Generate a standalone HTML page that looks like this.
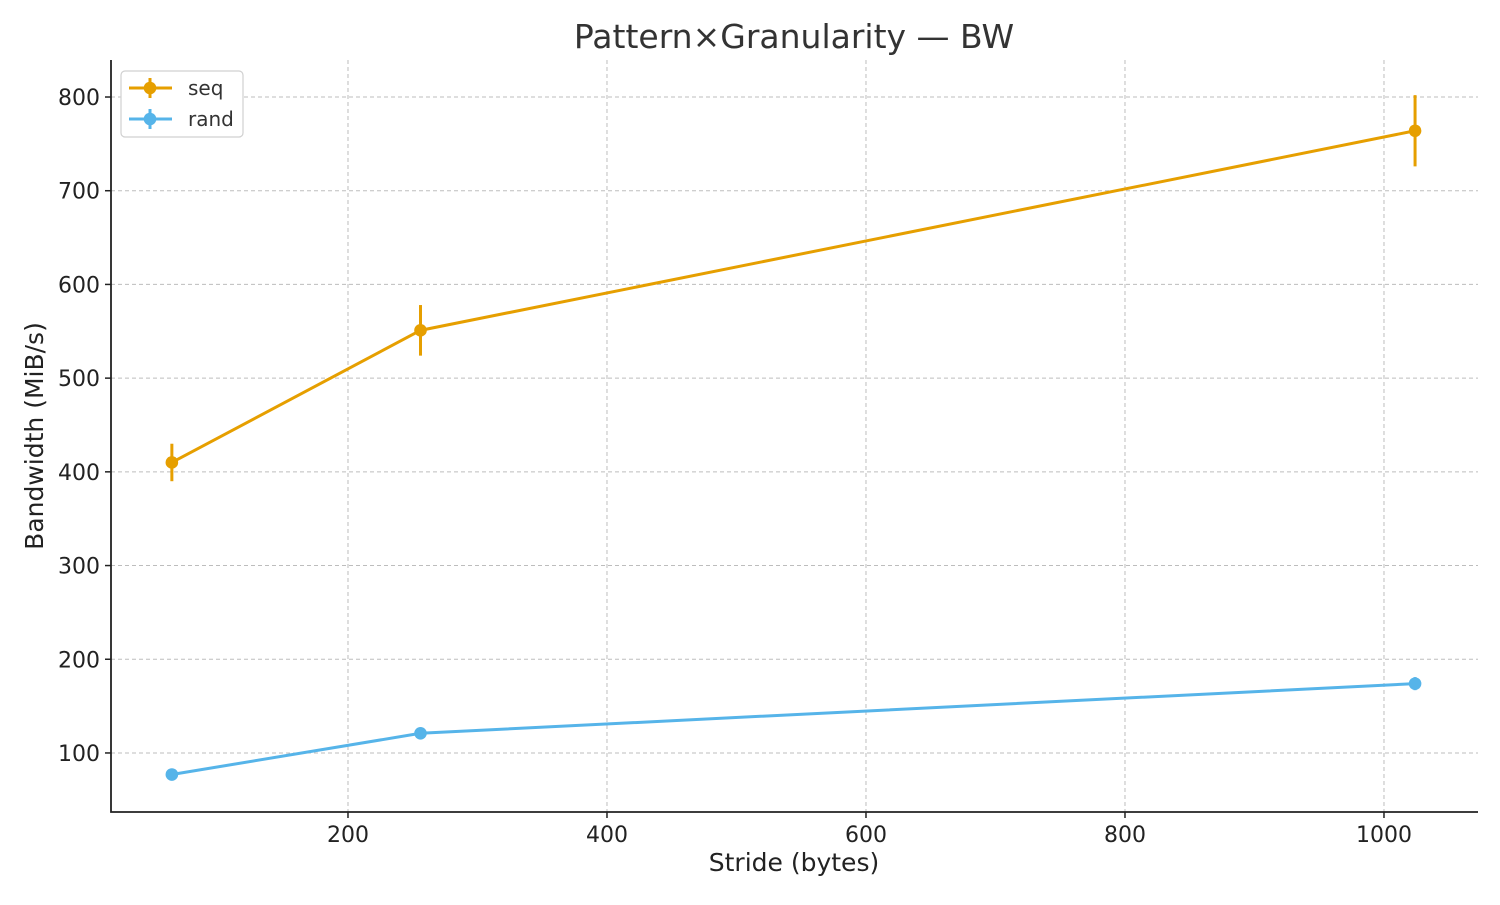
<!DOCTYPE html>
<html><head><meta charset="utf-8"><style>
body{margin:0;background:#fff;}
svg text{font-family:"DejaVu Sans","Liberation Sans",sans-serif;}
</style></head><body>
<svg id="chart" width="1500" height="900" xmlns="http://www.w3.org/2000/svg"></svg>
<script>
const categories = [64, 256, 1024];
const seqValues = [410, 551, 764];
const seqErr = [20, 27, 38];
const randValues = [77, 121, 174];
const randErr = [3, 3, 7];
const xTicks = [200, 400, 600, 800, 1000];
const yTicks = [100, 200, 300, 400, 500, 600, 700, 800];

const L=111,R=1478,T=60,B=812;
const X0=17,X1=1072.6,Y0=37,Y1=839.5;
const xs=v=>L+(v-X0)/(X1-X0)*(R-L);
const ys=v=>B-(v-Y0)/(Y1-Y0)*(B-T);
const svg=document.getElementById('chart');
const NS='http://www.w3.org/2000/svg';
function mk(tag,attrs,parent){const e=document.createElementNS(NS,tag);for(const k in attrs)e.setAttribute(k,attrs[k]);(parent||svg).appendChild(e);return e;}

const grid=mk('g',{});


xTicks.forEach(t=>{const x=xs(t);
 mk('line',{x1:x,x2:x,y1:T,y2:B,stroke:'#bdbdbd','stroke-dasharray':'4,3','stroke-width':1},grid);
 mk('line',{x1:x,x2:x,y1:B,y2:B+6,stroke:'#222','stroke-width':1.5});
 const tx=mk('text',{x:x,y:B+30,'text-anchor':'middle','font-size':22,fill:'#222'});tx.textContent=t;
 
 
});
yTicks.forEach(t=>{const y=ys(t);
 mk('line',{x1:L,x2:R,y1:y,y2:y,stroke:'#bdbdbd','stroke-dasharray':'4,3','stroke-width':1},grid);
 mk('line',{x1:L-6,x2:L,y1:y,y2:y,stroke:'#222','stroke-width':1.5});
 const tx=mk('text',{x:L-11,y:y+8,'text-anchor':'end','font-size':22,fill:'#222'});tx.textContent=t;
 
 
});
const ax=mk('path',{d:`M${L},${T}V${B}H${R}`,fill:'none',stroke:'#222','stroke-width':1.8});



function series(vals,errs,color,name){
 const g=mk('g',{});
 
 
 mk('polyline',{points:categories.map((c,i)=>xs(c)+','+ys(vals[i])).join(' '),fill:'none',stroke:color,'stroke-width':3},g);
 categories.forEach((c,i)=>{
  mk('line',{x1:xs(c),x2:xs(c),y1:ys(vals[i]-errs[i]),y2:ys(vals[i]+errs[i]),stroke:color,'stroke-width':3},g);
  const p=mk('circle',{cx:xs(c),cy:ys(vals[i]),r:6.3,fill:color},g);
  
  
 });
}
series(seqValues,seqErr,'#E69F00','seq');
series(randValues,randErr,'#56B4E9','rand');

const title=mk('text',{x:794,y:48,'text-anchor':'middle','font-size':33,fill:'#333'});title.textContent='Pattern×Granularity — BW';


const xl=mk('text',{x:794,y:871,'text-anchor':'middle','font-size':25,fill:'#222'});xl.textContent='Stride (bytes)';


const yl=mk('text',{x:43,y:436,'text-anchor':'middle','font-size':25,fill:'#222',transform:'rotate(-90 43 436)'});yl.textContent='Bandwidth (MiB/s)';



const lg=mk('g',{});


mk('rect',{x:121,y:71,width:122,height:66,rx:4,fill:'#fff',stroke:'#d0d0d0','stroke-width':1.2},lg);
[['seq','#E69F00',88],['rand','#56B4E9',119]].forEach(([n,c,y])=>{
 mk('line',{x1:129,x2:172,y1:y,y2:y,stroke:c,'stroke-width':3},lg);
 mk('line',{x1:150,x2:150,y1:y-10,y2:y+10,stroke:c,'stroke-width':3},lg);
 mk('circle',{cx:150,cy:y,r:6.3,fill:c},lg);
 const t=mk('text',{x:188,y:y+7,'font-size':20,fill:'#333'},lg);t.textContent=n;
 
 
});
</script>
</body></html>
